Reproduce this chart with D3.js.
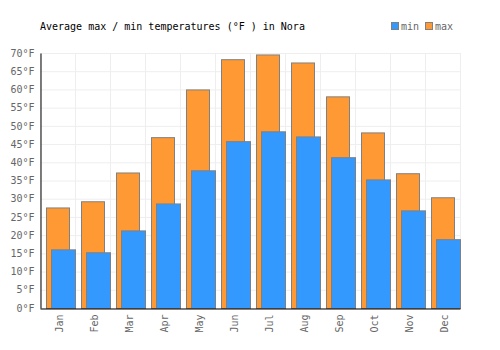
<!DOCTYPE html>
<html><head><meta charset="utf-8">
<script src="https://cdn.jsdelivr.net/npm/d3@7"></script>
<style>body{margin:0;background:#fff}svg{display:block}</style>
</head><body><svg id="c" width="500" height="350"></svg>
<script>
const months = ["Jan","Feb","Mar","Apr","May","Jun","Jul","Aug","Sep","Oct","Nov","Dec"];
const maxVals = [27.6,29.3,37.2,46.9,60.0,68.3,69.6,67.4,58.1,48.2,37.0,30.4];
const minVals = [16.1,15.3,21.3,28.7,37.8,45.8,48.5,47.1,41.4,35.3,26.8,18.9];
const yTicks = [0,5,10,15,20,25,30,35,40,45,50,55,60,65,70];
const title = "Average max / min temperatures (°F ) in Nora";
const seriesNames = ["min","max"];
const colors = {min:"#3399ff", max:"#ff9933"};

const svg = d3.select("#c");
const L=40, R=460, T=53, B=308;
const font = "'DejaVu Sans Mono', monospace";
const x = d3.scaleBand().domain(months).range([L,R]).padding(0);
const y = d3.scaleLinear().domain([0,70]).range([B,T]);
const bw = x.bandwidth();

// grid
const g = svg.append("g");
g.selectAll(".hg").data(yTicks).join("line")
  .attr("x1",L).attr("x2",R).attr("y1",d=>y(d)+0.5).attr("y2",d=>y(d)+0.5)
  .attr("stroke","#eeeeee");
g.selectAll(".vg").data(months.concat(["end"])).join("line")
  .attr("x1",(d,i)=>L+i*bw+0.5).attr("x2",(d,i)=>L+i*bw+0.5)
  .attr("y1",T).attr("y2",B).attr("stroke","#eeeeee");

// bars
svg.append("g").selectAll("rect").data(months).join("rect")
  .attr("x",d=>x(d)+6.5).attr("width",23)
  .attr("y",(d,i)=>y(maxVals[i])+0.5).attr("height",(d,i)=>B-y(maxVals[i]))
  .attr("fill",colors.max).attr("stroke","#808080").attr("stroke-width",1);
svg.append("g").selectAll("rect").data(months).join("rect")
  .attr("x",d=>x(d)+11.5).attr("width",24)
  .attr("y",(d,i)=>y(minVals[i])+0.5).attr("height",(d,i)=>B-y(minVals[i]))
  .attr("fill",colors.min).attr("stroke","#808080").attr("stroke-width",1);

// axes
const ya = svg.append("g").attr("transform",`translate(${L+0.5},0)`)
  .call(d3.axisLeft(y).tickValues(yTicks).tickSize(0).tickPadding(6).tickFormat(d=>d+"°F"));
ya.select(".domain").attr("stroke","#000");
ya.selectAll("text").attr("font-family",font).attr("font-size",10).attr("fill","#666");

const xa = svg.append("g").attr("transform",`translate(0,${B+0.5})`)
  .call(d3.axisBottom(x).tickSize(0).tickPadding(6));
xa.select(".domain").attr("stroke","#000");
xa.selectAll("text").attr("font-family",font).attr("font-size",10).attr("fill","#666")
  .attr("text-anchor","end").attr("transform","rotate(-90)")
  .attr("dy","0.35em").attr("x",-6).attr("y",2);

// title
svg.append("text").attr("x",40).attr("y",30).attr("font-family",font).attr("font-size",10)
  .attr("fill","#000").text(title);

// legend
const leg = svg.append("g");
const legX = [391,425];
seriesNames.forEach((s,i)=>{
  leg.append("rect").attr("x",legX[i]+0.5).attr("y",22.5).attr("width",7).attr("height",7)
    .attr("fill",colors[s]).attr("stroke","#808080");
  leg.append("text").attr("x",legX[i]+10).attr("y",30).attr("font-family",font)
    .attr("font-size",10).attr("fill","#666").text(s);
});
</script></body></html>
